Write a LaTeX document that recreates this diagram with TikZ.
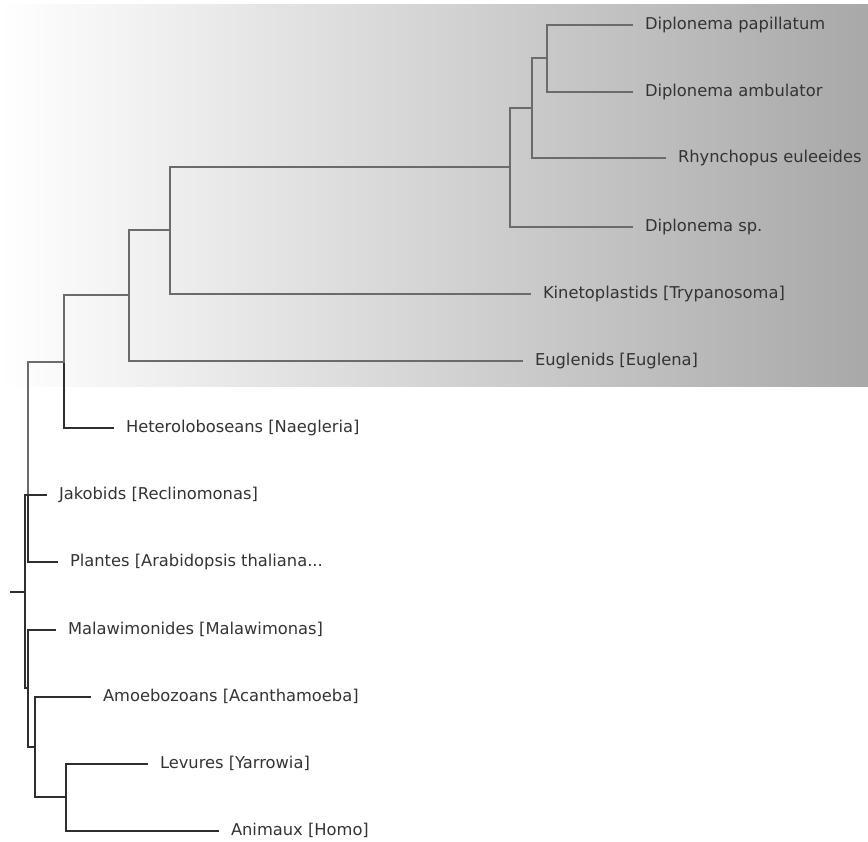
\documentclass[tikz,border=0pt]{standalone}
\usepackage{fontspec}
\setmainfont{DejaVu Sans}
\usetikzlibrary{positioning}
\tikzstyle{every node}=[font=\fontsize{16.3}{19}\selectfont,text=black!80]
\tikzstyle{every path}=[line width=1.1pt,line cap=rect,line join=miter]
\tikzstyle{leaf}=[anchor=west,inner sep=0pt,outer xsep=13pt,text height=12pt,text depth=3pt]
\tikzstyle{shaded}=[draw=black!58]
\tikzstyle{plain}=[draw=black!82]

\begin{document}
\begin{tikzpicture}[x=1pt,y=-1pt]
\useasboundingbox (0,0) rectangle (868,842);
\shade[left color=white,right color=black!34] (0,5) rectangle (868,387);

% leaves
\node[leaf] (pap) at (632,25) {Diplonema papillatum};
\node[leaf] (amb) at (632,92) {Diplonema ambulator};
\node[leaf] (rhy) at (665,158) {Rhynchopus euleeides};
\node[leaf] (dsp) at (632,227) {Diplonema sp.};
\node[leaf] (kin) at (530,294) {Kinetoplastids [Trypanosoma]};
\node[leaf] (eug) at (522,361) {Euglenids [Euglena]};
\node[leaf] (het) at (113,428) {Heteroloboseans [Naegleria]};
\node[leaf] (jak) at (46,495) {Jakobids [Reclinomonas]};
\node[leaf] (pla) at (57,562) {Plantes [Arabidopsis thaliana...};
\node[leaf] (mal) at (55,630) {Malawimonides [Malawimonas]};
\node[leaf] (amo) at (90,697) {Amoebozoans [Acanthamoeba]};
\node[leaf] (lev) at (147,764) {Levures [Yarrowia]};
\node[leaf] (ani) at (218,831) {Animaux [Homo]};

% inner nodes
\coordinate (dpa) at (547,58);
\coordinate (dpr) at (532,108);
\coordinate (dip) at (510,167);
\coordinate (eug1) at (170,230);
\coordinate (eug2) at (129,295);
\coordinate (dis) at (64,362);
\coordinate (exc) at (28,495);
\coordinate (root) at (25,592);
\coordinate (stem) at (11,592);
\coordinate (uni) at (28,688);
\coordinate (amor) at (35,747);
\coordinate (opi) at (66,797);

\draw[shaded] (pap.west) -| (dpa) |- (amb.west);
\draw[shaded] (dpa) -| (dpr) |- (rhy.west);
\draw[shaded] (dpr) -| (dip) |- (dsp.west);
\draw[shaded] (dip) -| (eug1) |- (kin.west);
\draw[shaded] (eug1) -| (eug2) |- (eug.west);
\draw[shaded] (eug2) -| (dis);
\draw[plain] (dis) |- (het.west);
\draw[shaded] (dis) -| (exc);
\draw[plain] (exc) |- (pla.west);
\draw[plain] (jak.west) -| (root) |- (uni);
\draw[plain] (stem) -- (root);
\draw[plain] (mal.west) -| (uni) |- (amor);
\draw[plain] (amo.west) -| (amor) |- (opi);
\draw[plain] (lev.west) -| (opi) |- (ani.west);
\end{tikzpicture}
\end{document}
